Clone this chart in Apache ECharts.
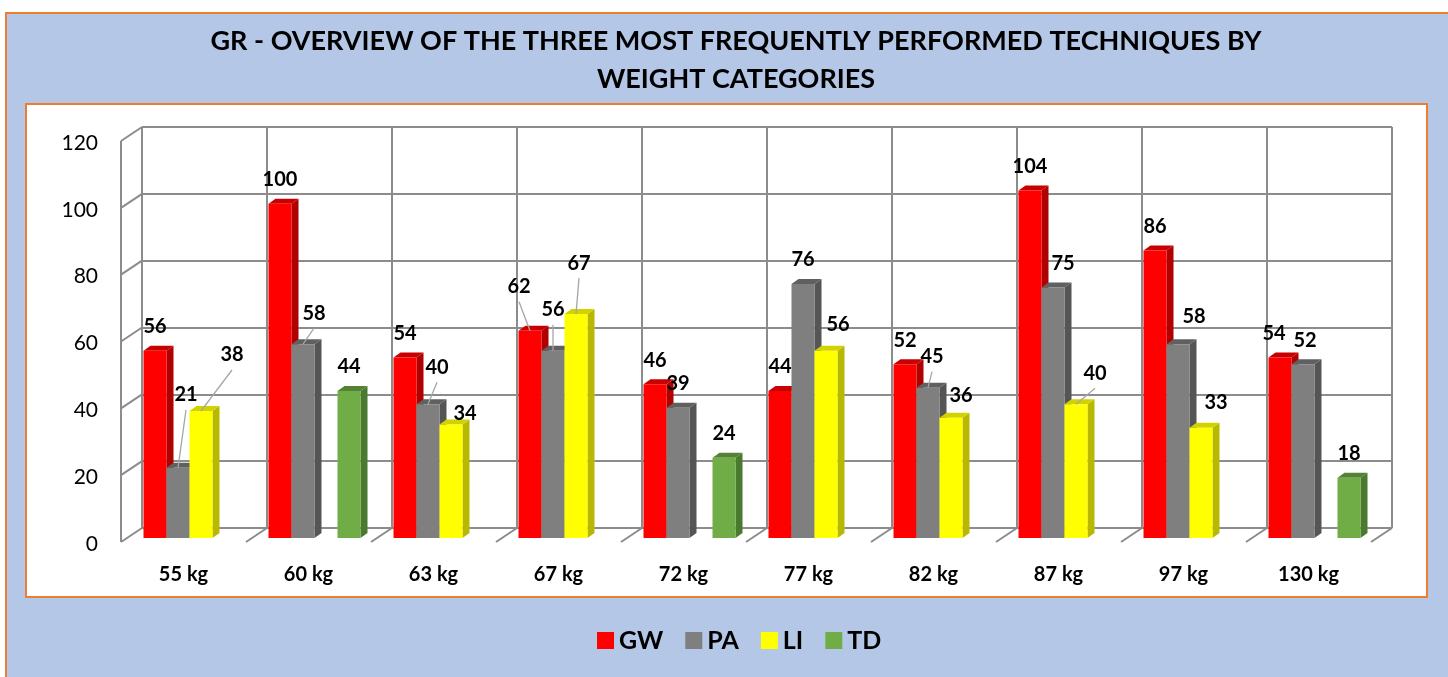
<!DOCTYPE html>
<html>
<head>
<meta charset="utf-8">
<title>GR - techniques by weight categories</title>
<script src="https://cdn.jsdelivr.net/npm/echarts@6/dist/echarts.min.js"></script>
<style>
  html, body { margin: 0; padding: 0; background: #fff; }
  #chart { width: 1448px; height: 677px; }
</style>
</head>
<body>
<div id="chart"></div>
<script>
  // data
  const categories = ['55 kg', '60 kg', '63 kg', '67 kg', '72 kg', '77 kg', '82 kg', '87 kg', '97 kg', '130 kg'];
  const gw = [56, 100, 54, 62, 46, 44, 52, 104, 86, 54];
  const pa = [21, 58, 40, 56, 39, 76, 45, 75, 58, 52];
  const li = [38, null, 34, 67, null, 56, 36, 40, 33, null];
  const td = [null, 44, null, null, 24, null, null, null, null, 18];
  const yTicks = [0, 20, 40, 60, 80, 100, 120];

  // front / side / top colours for the fake 3d bars
  const looks = [
    {name: 'GW', front: '#ff0000', side: '#b00000', top: '#c80000'},
    {name: 'PA', front: '#7f7f7f', side: '#555555', top: '#606060'},
    {name: 'LI', front: '#ffff00', side: '#b8b800', top: '#d2d200'},
    {name: 'TD', front: '#70ad47', side: '#4a7a2e', top: '#548235'}
  ];

  // label nudges (series-category): [dx, dy, leader line]
  const labelTweak = {
    '1-0': [8, -49, true], '2-0': [31, -32, true],
    '1-1': [11, -7, true],
    '1-2': [9, -13, true], '2-2': [14, 13, false],
    '0-3': [-11, -20, true], '1-3': [0, -17, true], '2-3': [3, -27, true],
    '2-5': [12, -2, false],
    '1-6': [4, -7, true], '2-6': [10, 2, false],
    '1-7': [10, 0, false], '2-7': [19, -7, true],
    '1-8': [16, -4, false], '2-8': [15, -1, false],
    '0-9': [-6, 0, false], '1-9': [2, 0, false]
  };

  const depthX = 7, depthY = 5;     // bar side depth
  const shiftX = -15, shiftY = 10;  // bars sit in front of the back wall
  const wallX = -21, wallY = 14;    // left wall / floor depth

  function barSeries(values, idx) {
    const look = looks[idx];
    const data = [];
    values.forEach(function (v, i) { if (v != null) data.push([i, v]); });
    return {
      name: look.name,
      type: 'custom',
      itemStyle: {color: look.front},
      clip: false,
      z: 5,
      data: data,
      renderItem: function (params, api) {
        const cat = api.value(0), v = api.value(1);
        const base = api.coord([cat, 0]);
        const top = api.coord([cat, v]);
        const bw = api.size([1, 0])[0];
        const w = bw * 0.184;
        const x = base[0] - 2 * w + idx * w + shiftX;
        const yb = base[1] + shiftY, yt = top[1] + shiftY;
        const t = labelTweak[idx + '-' + cat] || [0, 0, false];
        const lx = x + w / 2 + t[0], ly = yt - 24 + t[1];
        const children = [
          {type: 'polygon', shape: {points: [[x + w, yt], [x + w + depthX, yt - depthY], [x + w + depthX, yb - depthY], [x + w, yb]]},
            style: {fill: look.side}},
          {type: 'polygon', shape: {points: [[x, yt], [x + w, yt], [x + w + depthX, yt - depthY], [x + depthX, yt - depthY]]},
            style: {fill: look.top}},
          {type: 'rect', shape: {x: x, y: yt, width: w, height: yb - yt}, style: {fill: look.front}}
        ];
        if (t[2]) {
          children.push({type: 'line', shape: {x1: lx, y1: ly + 15, x2: x + w / 2, y2: yt},
            style: {stroke: '#a6a6a6', lineWidth: 1.3}});
        }
        children.push({type: 'text', x: lx, y: ly, style: {
          text: String(v), fill: '#000', font: 'bold 20px Lato',
          align: 'center', verticalAlign: 'middle'
        }});
        return {type: 'group', children: children};
      }
    };
  }

  // left wall and floor edges
  const wallSeries = {
    type: 'custom',
    silent: true,
    clip: false,
    z: 1,
    data: [[0, 0]],
    renderItem: function (params, api) {
      const bw = api.size([1, 0])[0];
      const x0 = api.coord([0, 0])[0] - bw / 2;
      const y0 = api.coord([0, 0])[1];
      const yTop = api.coord([0, yTicks[yTicks.length - 1]])[1];
      const st = {stroke: '#8c8c8c', lineWidth: 2};
      const children = [];
      yTicks.forEach(function (v) {
        const y = api.coord([0, v])[1];
        children.push({type: 'line', shape: {x1: x0, y1: y, x2: x0 + wallX, y2: y + wallY}, style: st});
      });
      children.push({type: 'line', shape: {x1: x0 + wallX, y1: yTop + wallY, x2: x0 + wallX, y2: y0 + wallY}, style: st});
      for (let c = 1; c <= categories.length; c++) {
        const x = x0 + c * bw;
        children.push({type: 'line', shape: {x1: x, y1: y0, x2: x + wallX, y2: y0 + wallY}, style: st});
      }
      return {type: 'group', children: children};
    }
  };

  const chart = echarts.init(document.getElementById('chart'));
  chart.setOption({
    backgroundColor: '#fff',
    animation: false,
    color: looks.map(function (l) { return l.front; }),
    graphic: {
      elements: [
        {type: 'rect', z: -10, shape: {x: 6, y: 13, width: 1460, height: 680},
          style: {fill: '#b4c7e7', stroke: '#ed7d31', lineWidth: 2}},
        {type: 'rect', z: -9, shape: {x: 26, y: 104, width: 1401, height: 493},
          style: {fill: '#fff', stroke: '#ed7d31', lineWidth: 2}}
      ]
    },
    title: {
      text: 'GR - OVERVIEW OF THE THREE MOST FREQUENTLY PERFORMED TECHNIQUES BY\nWEIGHT CATEGORIES',
      left: 731,
      textAlign: 'center',
      top: 17,
      textStyle: {fontFamily: 'Lato', fontWeight: 'bold', fontSize: 27, lineHeight: 38, color: '#000'}
    },
    legend: {
      data: ['GW', 'PA', 'LI', 'TD'],
      bottom: 19,
      left: 592,
      icon: 'rect',
      itemWidth: 17,
      itemHeight: 17,
      itemGap: 22,
      textStyle: {fontFamily: 'Lato', fontWeight: 'bold', fontSize: 25, color: '#000'}
    },
    grid: {left: 142, right: 56, top: 127, bottom: 149},
    xAxis: {
      type: 'category',
      data: categories,
      axisLine: {show: false},
      axisTick: {show: false},
      splitLine: {show: true, interval: 0, lineStyle: {color: '#8c8c8c', width: 2}},
      axisLabel: {
        interval: 0, margin: 37, color: '#000',
        fontFamily: 'Lato', fontWeight: 'bold', fontSize: 20,
        padding: [0, 42, 0, 0]
      }
    },
    yAxis: {
      type: 'value',
      min: 0,
      max: 120,
      interval: 20,
      axisLine: {show: false},
      axisTick: {show: false},
      splitLine: {lineStyle: {color: '#8c8c8c', width: 2}},
      axisLabel: {
        margin: 44, color: '#000',
        fontFamily: 'Lato', fontSize: 21,
        verticalAlign: 'top',
        lineHeight: 32
      }
    },
    series: [wallSeries, barSeries(gw, 0), barSeries(pa, 1), barSeries(li, 2), barSeries(td, 3)]
  });
</script>
</body>
</html>
